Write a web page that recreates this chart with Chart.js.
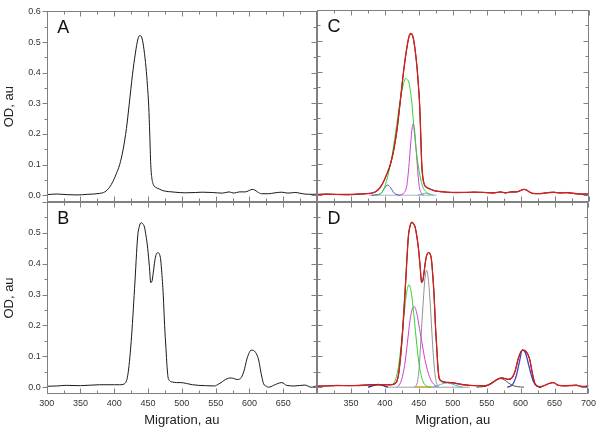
<!DOCTYPE html>
<html><head><meta charset="utf-8">
<script src="https://cdn.jsdelivr.net/npm/chart.js@4"></script>
<style>
html,body{margin:0;padding:0;background:#fff;}
#wrap{position:relative;width:600px;height:433px;overflow:hidden;}
#wrap canvas{position:absolute;left:0;top:0;}
</style></head><body>
<div id="wrap">
<canvas id="cA" width="600" height="433"></canvas>
<canvas id="cB" width="600" height="433"></canvas>
<canvas id="cC" width="600" height="433"></canvas>
<canvas id="cD" width="600" height="433"></canvas>
</div>
<script>
// ---- axis ticks / labels ----
const xMajorTicks = [300,350,400,450,500,550,600,650,700];
const xMinorTicks = [325,375,425,475,525,575,625,675];
const yMajorTicks = [0,0.1,0.2,0.3,0.4,0.5,0.6];
const yMinorTicks = [0.05,0.15,0.25,0.35,0.45,0.55];
const xLabelsLeft = [300,350,400,450,500,550,600,650];
const xLabelsRight = [350,400,450,500,550,600,650,700];
const yLabelsTop = [0,0.1,0.2,0.3,0.4,0.5,0.6];
const yLabelsBottom = [0,0.1,0.2,0.3,0.4,0.5];

// ---- sample 1 (panels A, C) ----
const migA = [300,315,330,345,360,378,386,393,398,403,408,413,418,422,427,431,435,438,441,444,447,449,451,452.5,454,455.5,458,462,467,472,480,490,505,520,530,545,560,570,577,585,594,599,604,608,612,618,628,638,648,657,667,682,694,700];
const odA = [.002,.004,.002,.001,.003,.006,.011,.026,.045,.07,.100,.148,.218,.295,.395,.460,.510,.521,.513,.475,.416,.36,.29,.20,.10,.058,.034,.025,.02,.015,.012,.010,.008,.009,.010,.009,.007,.011,.007,.011,.011,.015,.019,.017,.011,.005,.005,.008,.010,.007,.009,.004,.003,.004];
const fitC = [.003,.003,.003,.003,.004,.006,.011,.025,.044,.07,.101,.148,.218,.296,.395,.462,.512,.524,.515,.476,.416,.36,.29,.20,.105,.062,.033,.024,.019,.015,.012,.010,.009,.009,.010,.009,.008,.010,.008,.010,.011,.015,.019,.017,.011,.006,.005,.008,.009,.008,.008,.005,.004,.004];
const cBlueX = [380,390,395,399,404,408,412,416,422];
const cBlueY = [0,.002,.008,.022,.033,.025,.011,.003,0];
const cGreenX = [388,395,399,405,411,416,421,426,430.7,433,435.5,439.5,442.8,447.7,452.6,456,460,466];
const cGreenY = [0,.008,.024,.07,.136,.21,.287,.35,.379,.374,.362,.298,.211,.114,.05,.025,.012,0];
const cMagX = [422,428,432,435,437,439.5,441.4,443.5,446,450,453,457];
const cMagY = [0,.008,.03,.09,.145,.21,.232,.21,.14,.035,.008,0];
const cTealX = [448,455,460,466,472];
const cTealY = [0,.004,.007,.004,0];
const cBaseX = [376,476];
const cBaseY = [0,0];

// ---- sample 2 (panels B, D) ----
const migB = [300,315,329,350,378,400,408,415,420,425,430,434.7,437,439.7,442,444.6,447,449.5,452,454,456,457.8,460,462,464.7,467,468.5,470,472.5,474.5,476.5,478,480,485.7,492,498.5,507,515.6,525,535,548,555,560,564.7,569,573,577,581.8,586.7,591.6,596.5,600,602.4,606,609,611.3,614,616,618.5,621,625,628.4,635.7,642,648,655,667,682,691.6,700];
const odB = [.003,.004,.006,.005,.008,.008,.008,.011,.039,.147,.319,.49,.52,.533,.53,.519,.49,.449,.39,.339,.345,.373,.41,.43,.436,.43,.416,.38,.298,.2,.125,.07,.028,.017,.015,.015,.012,.008,.006,.005,.004,.011,.018,.025,.029,.03,.028,.025,.028,.05,.093,.113,.12,.119,.113,.104,.085,.06,.032,.011,.003,0,.006,.012,.015,.006,.004,.007,0,.005];
const fitD = [.004,.004,.005,.005,.007,.008,.008,.012,.040,.147,.318,.49,.522,.535,.531,.518,.49,.448,.39,.342,.347,.374,.41,.43,.437,.43,.414,.378,.298,.2,.126,.07,.03,.018,.016,.014,.011,.008,.006,.005,.005,.01,.017,.024,.029,.03,.028,.026,.03,.05,.092,.113,.12,.119,.112,.103,.084,.06,.033,.012,.004,.002,.006,.012,.015,.007,.005,.006,.003,.004];
const dGreenX = [412,416,420,424,428,432,435.5,439,443,447,451,456,462,468];
const dGreenY = [.009,.027,.066,.138,.229,.305,.332,.305,.229,.138,.066,.02,.003,0];
const dMagX = [418,422,426,430,434,438,442.8,447,451,455,459,464,470,478];
const dMagY = [0,.01,.035,.085,.16,.23,.262,.24,.19,.14,.09,.045,.015,0];
const dGrayX = [443,447,450,453,456,459,461.4,464,467,470,473,476,480];
const dGrayY = [0,.01,.05,.15,.26,.35,.379,.35,.265,.15,.06,.015,0];
const dBlueX = [375,380,385,390,395,400,405];
const dBlueY = [0,.003,.007,.009,.007,.003,0];
const dCyanX = [470,476,482,488,492,497,503,509,515];
const dCyanY = [0,.004,.009,.013,.014,.012,.007,.003,0];
const dOrangeX = [445,470];
const dOrangeY = [.001,.001];
const dBrownX = [535,545,552,558,564,570,576,582,588,595,605];
const dBrownY = [0,.002,.006,.013,.022,.028,.024,.014,.006,.002,0];
const dViolX = [580,586,590,594,598,602.6,607,611,615,619,624,630];
const dViolY = [0,.005,.015,.04,.08,.12,.112,.08,.045,.018,.004,0];
const dBaseX = [405,525];
const dBaseY = [0,0];

Chart.defaults.font.family = '"Liberation Sans", Arial, sans-serif';

function pts(xs, ys){ return xs.map((x,i)=>({x:x, y:ys[i]})); }
function ds(xs, ys, color, width, order){
  return {data: pts(xs, ys), borderColor: color, borderWidth: width, order: order,
          pointRadius: 0, fill: false, cubicInterpolationMode: 'monotone'};
}

const framePlugin = {
  id: 'frame',
  afterDraw(chart, args, o){
    const {ctx, chartArea: a, scales: {x, y}} = chart;
    ctx.save();
    ctx.strokeStyle = '#808080'; ctx.lineWidth = 1;
    const L = Math.round(a.left)+0.5, R = Math.round(a.right)-0.5, T = Math.round(a.top)+0.5, B = Math.round(a.bottom)-0.5;
    ctx.strokeRect(L, T, R-L, B-T);
    ctx.beginPath();
    const seg = (x1,y1,x2,y2)=>{ctx.moveTo(x1,y1);ctx.lineTo(x2,y2);};
    [[xMajorTicks,5],[xMinorTicks,3]].forEach(([vals,len])=>vals.forEach(v=>{
      const px = Math.round(x.getPixelForValue(v))+0.5;
      seg(px, T, px, T+len); seg(px, B, px, B-len);
    }));
    [[yMajorTicks,5],[yMinorTicks,3]].forEach(([vals,len])=>vals.forEach(v=>{
      const py = Math.round(y.getPixelForValue(v))+0.5;
      seg(L, py, L + (o.leftOut ? -len : len), py); seg(R, py, R-len, py);
    }));
    ctx.stroke();
    ctx.fillStyle = '#111';
    ctx.font = '18px "Liberation Sans", Arial, sans-serif';
    ctx.textBaseline = 'alphabetic';
    ctx.fillText(o.letter, a.left+10.5, a.top+22);
    ctx.restore();
  }
};

function panel(id, cfg){
  return new Chart(document.getElementById(id), {
    type: 'line',
    data: {datasets: cfg.datasets},
    options: {
      responsive: false, animation: false, events: [],
      layout: {padding: cfg.pad},
      plugins: {legend:{display:false}, tooltip:{enabled:false}, frame:{letter: cfg.letter, leftOut: cfg.leftOut}},
      scales: {
        x: {type:'linear', min:300, max:700, display: cfg.showX,
            grid:{display:false, drawTicks:false, tickLength:0}, border:{display:false},
            ticks:{padding:4, font:{size:9}, color:'#333', maxRotation:0, autoSkip:false, callback: v => String(v)},
            afterBuildTicks: s => { s.ticks = cfg.xLabels.map(v=>({value:v})); },
            afterFit: s => { s.height = cfg.showX ? 39 : 0; },
            title:{display:true, text:'Migration, au', font:{size:13}, color:'#222', padding:{top:0, bottom:5}}},
        y: {type:'linear', min:-0.022, max:0.6, display: cfg.showY,
            grid:{display:false, drawTicks:false, tickLength:0}, border:{display:false},
            ticks:{padding:6, font:{size:9}, color:'#333', autoSkip:false, callback: v => v.toFixed(1)},
            afterBuildTicks: s => { s.ticks = cfg.yLabels.map(v=>({value:v})); },
            afterFit: s => { s.width = cfg.showY ? 46.7 : 0; },
            title:{display:true, text:'OD, au', font:{size:13}, color:'#222', padding:{top:2, bottom:0}}}
      }
    },
    plugins: [framePlugin]
  });
}

panel('cA', {letter:'A', leftOut:true, showX:false, showY:true, xLabels:xLabelsLeft, yLabels:yLabelsTop,
  pad:{left:0, top:10, right:283, bottom:231},
  datasets:[ds(migA, odA, '#1a1a1a', 1, 1)]});

panel('cB', {letter:'B', leftOut:true, showX:true, showY:true, xLabels:xLabelsLeft, yLabels:yLabelsBottom,
  pad:{left:0, top:202, right:283, bottom:0},
  datasets:[ds(migB, odB, '#1a1a1a', 1, 1)]});

panel('cC', {letter:'C', leftOut:false, showX:false, showY:false, xLabels:xLabelsRight, yLabels:yLabelsTop,
  pad:{left:317, top:10, right:11, bottom:231},
  datasets:[
    ds(migA, fitC, '#d81e1e', 1.3, 0),
    ds(migA, odA, '#1a1a1a', 1, 1),
    ds(cGreenX, cGreenY, '#2fd42f', 1, 2),
    ds(cMagX, cMagY, '#cc3fd0', 1, 2),
    ds(cBlueX, cBlueY, '#5050b8', 1, 2),
    ds(cTealX, cTealY, '#6fb0b0', 1, 2),
    ds(cBaseX, cBaseY, '#a8b4c8', 1, 3)
  ]});

panel('cD', {letter:'D', leftOut:false, showX:true, showY:false, xLabels:xLabelsRight, yLabels:yLabelsBottom,
  pad:{left:317, top:202, right:11, bottom:0},
  datasets:[
    ds(migB, fitD, '#d81e1e', 1.3, 0),
    ds(migB, odB, '#1a1a1a', 1, 1),
    ds(dGreenX, dGreenY, '#2fd42f', 1, 2),
    ds(dMagX, dMagY, '#cc3fd0', 1, 2),
    ds(dGrayX, dGrayY, '#909090', 1, 2),
    ds(dBlueX, dBlueY, '#2a2a9a', 1.3, 2),
    ds(dCyanX, dCyanY, '#3cbcc8', 1, 2),
    ds(dOrangeX, dOrangeY, '#f0a020', 1.2, 2),
    ds(dBrownX, dBrownY, '#5a4a4a', 1, 2),
    ds(dViolX, dViolY, '#4040c0', 1.3, 2),
    ds(dBaseX, dBaseY, '#a0a0a0', 1, 3)
  ]});
</script>
</body></html>
